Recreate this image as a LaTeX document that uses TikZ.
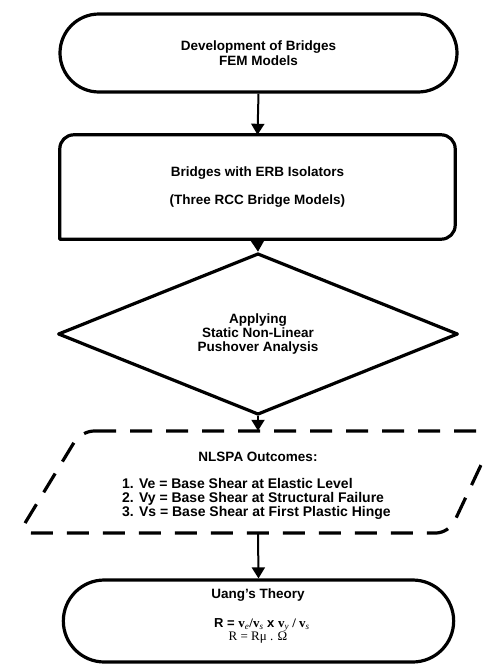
\documentclass[tikz,border=0pt]{standalone}
\usepackage{fontspec}
\setmainfont{Liberation Sans}
\newfontfamily\serifr{Liberation Serif}
\usetikzlibrary{shapes.geometric,shapes.misc,arrows.meta}

\begin{document}
\begin{tikzpicture}[x=1pt,y=1pt,
  flow/.style={draw=black, line width=3.2pt, line join=round},
  dashflow/.style={flow, dash pattern=on 22pt off 14pt, rounded corners=13pt},
  lbl/.style={font=\fontsize{13.5}{15.5}\selectfont\bfseries, align=center, inner sep=0pt},
  lsmall/.style={font=\fontsize{14}{14}\selectfont\bfseries, align=left, inner sep=0pt},
  formula/.style={font=\fontsize{13}{13}\selectfont, inner sep=0pt},
  conn/.style={line width=2pt, -{Triangle[length=11pt,width=13pt]}},
]
\useasboundingbox (0,0) rectangle (482,-664);
\clip (0,0) rectangle (482,-664);

% start terminal
\node[flow, rounded rectangle, minimum width=397pt, minimum height=78pt, lbl]
  (dev) at (258.5,-53) {Development of Bridges\\FEM Models};

% process box (sharp lower-left corner)
\node[minimum width=395pt, minimum height=104pt, lbl]
  (erb) at (257.5,-187) {Bridges with ERB Isolators\\[13pt](Three RCC Bridge Models)};
\draw[flow] (erb.south west) -- ([yshift=-14pt]erb.north west)
  arc[start angle=180, end angle=90, radius=14pt]
  -- ([xshift=-14pt]erb.north east)
  arc[start angle=90, end angle=0, radius=14pt]
  -- ([yshift=14pt]erb.south east)
  arc[start angle=0, end angle=-90, radius=14pt]
  -- cycle;

% decision
\node[flow, diamond, minimum width=400pt, minimum height=102pt, inner sep=0pt,
  font=\fontsize{13.5}{14}\selectfont\bfseries, align=center]
  (push) at (258,-334) {Applying\\Static Non-Linear\\Pushover Analysis};

% outcomes (dashed data block)
\node[minimum width=380pt, minimum height=102pt, inner sep=0pt] (out) at (258,-482) {};
\draw[dashflow] (81,-431) -- (497,-431) -- (449,-533) -- (19,-533) -- cycle;
\node[lbl] (nlspa) at (258,-457) {NLSPA Outcomes:};
\node[lsmall, anchor=west] (vlist) at (122,-499)
  {1. Ve = Base Shear at Elastic Level\\
   2. Vy = Base Shear at Structural Failure\\
   3. Vs = Base Shear at First Plastic Hinge};

% end terminal
\node[flow, rounded rectangle, minimum width=397pt, minimum height=82pt]
  (uang) at (258.5,-621) {};
\node[lbl] (uangt) at (258,-595) {Uang’s Theory};
\node[formula] (rf) at (262,-625)
  {\textbf{R = }{\serifr\bfseries v\textsubscript{\mdseries\itshape e}/v\textsubscript{\mdseries\itshape s}}
   \textbf{x} {\serifr\bfseries v\textsubscript{\mdseries\itshape y} / v\textsubscript{\mdseries\itshape s}}};
\node[formula] (rr) at (258,-638) {\serifr R = Rμ . Ω};

% connectors
\draw[conn] (dev.south) -- (erb.north);
\draw[conn] (erb.south) -- (push.north);
\draw[conn] (push.south) -- (out.north);
\draw[conn] (out.south) -- (uang.north);
\end{tikzpicture}
\end{document}
